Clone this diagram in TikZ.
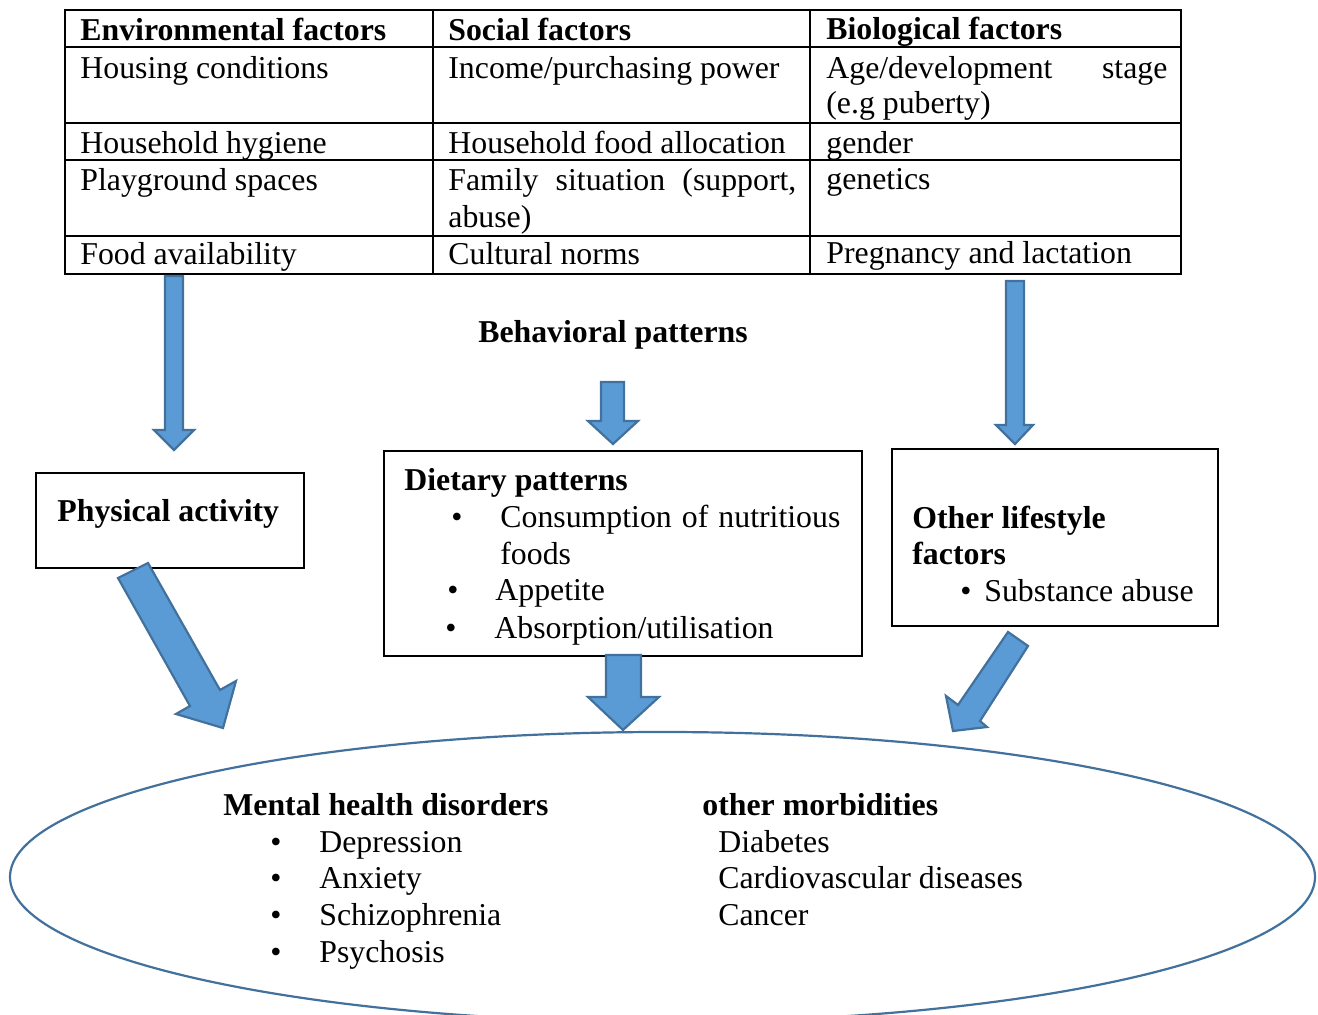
\documentclass[tikz,border=0pt]{standalone}
\usepackage{fontspec}
\setmainfont{Liberation Serif}
\newcommand\fsz{\fontsize{15.9}{18}\selectfont}
\definecolor{arrfill}{HTML}{5B9BD5}
\definecolor{arrdraw}{HTML}{41719C}
\usetikzlibrary{shapes.geometric}
\begin{document}
\begin{tikzpicture}[x=0.5pt,y=-0.5pt,
  txt/.style={anchor=base west,inner sep=0pt,font=\fsz,yshift=-0.9pt},
  btxt/.style={anchor=base west,inner sep=0pt,font=\fsz\bfseries,yshift=-0.9pt},
  bul/.style={anchor=base,inner sep=0pt,font=\fsz,yshift=-0.9pt},
  blk/.style={draw=arrdraw,fill=arrfill,line width=1.1pt,line join=miter},
  rule/.style={draw=black,line width=1pt},
  boxnode/.style={draw=black,line width=1pt,anchor=north west,inner sep=0pt}]
\useasboundingbox (0,0) rectangle (1318,1015);
\fill[white] (0,0) rectangle (1318,1015);

% ---- table ----
\draw[rule] (65,10) rectangle (1181,274);
\foreach \yy in {47,123,160,236} \draw[rule] (65,\yy) -- (1181,\yy);
\draw[rule] (433,10) -- (433,274);
\draw[rule] (810,10) -- (810,274);

\node[btxt] (h1) at (80,39) {Environmental factors};
\node[btxt] (h2) at (448,39) {Social factors};
\node[btxt] (h3) at (826,38) {Biological factors};

\node[txt] (c11) at (80,77) {Housing conditions};
\node[txt] (c12) at (448,77) {Income/purchasing power};
\node[txt] (c13) at (826,77) {\makebox[170.5pt][s]{Age/development stage}};
\node[txt] (c13b) at (826,112) {(e.g puberty)};

\node[txt] (c21) at (80,152) {Household hygiene};
\node[txt] (c22) at (448,152) {Household food allocation};
\node[txt] (c23) at (826,152) {gender};

\node[txt] (c31) at (80,189) {Playground spaces};
\node[txt] (c32) at (448,189) {\makebox[174pt][s]{Family situation (support,}};
\node[txt] (c32b) at (448,226) {abuse)};
\node[txt] (c33) at (826,188) {genetics};

\node[txt] (c41) at (80,263) {Food availability};
\node[txt] (c42) at (448,263) {Cultural norms};
\node[txt] (c43) at (826,262) {Pregnancy and lactation};

% ---- behavioral patterns ----
\node[btxt,anchor=base] (bp) at (613,341) {Behavioral patterns};

% ---- boxes ----
\node[boxnode,minimum width=134pt,minimum height=47.5pt] (pa) at (35,472) {};
\node[btxt] (pat) at (57,520) {Physical activity};

\node[boxnode,minimum width=239pt,minimum height=102.5pt] (dp) at (383,450) {};
\node[btxt] (dpt) at (404,489) {Dietary patterns};
\node[bul] (b1) at (457,526) {\textbullet};
\node[txt] (d1) at (500,526) {\makebox[170pt][s]{Consumption of nutritious}};
\node[txt] (d1b) at (500,563) {foods};
\node[bul] (b2) at (453,599) {\textbullet};
\node[txt] (d2) at (495,599) {Appetite};
\node[bul] (b3) at (451,637) {\textbullet};
\node[txt] (d3) at (494,637) {Absorption/utilisation};

\node[boxnode,minimum width=163pt,minimum height=88.5pt] (ol) at (891,448) {};
\node[btxt] (olt) at (912,527) {Other lifestyle};
\node[btxt] (olt2) at (912,563) {factors};
\node[bul] (b4) at (966,600) {\textbullet};
\node[txt] (o1) at (984,600) {Substance abuse};

% ---- ellipse ----
\node[ellipse,draw=arrdraw,line width=1.1pt,minimum width=652.5pt,minimum height=145pt,inner sep=0pt] (el) at (662.5,877) {};
\begin{scope}[yshift=0.9pt]
\node[btxt] (mh) at (223,815) {Mental health disorders};
\node[bul] (e1) at (276,852) {\textbullet};
\node[txt] (m1) at (319,852) {Depression};
\node[bul] (e2) at (276,888) {\textbullet};
\node[txt] (m2) at (319,888) {Anxiety};
\node[bul] (e3) at (276,925) {\textbullet};
\node[txt] (m3) at (319,925) {Schizophrenia};
\node[bul] (e4) at (276,962) {\textbullet};
\node[txt] (m4) at (319,962) {Psychosis};

\node[btxt] (om) at (702,815) {other morbidities};
\node[txt] (o2) at (718,852) {Diabetes};
\node[txt] (o3) at (718,888) {Cardiovascular diseases};
\node[txt] (o4) at (718,925) {Cancer};
\end{scope}

% ---- block arrows ----
\draw[blk] (165,276) -- (183,276) -- (183,430) -- (194,430) -- (174,450) -- (154,430) -- (165,430) -- cycle;
\draw[blk] (601,382) -- (624,382) -- (624,421) -- (638,421) -- (613,444) -- (588,421) -- (601,421) -- cycle;
\draw[blk] (1006,281) -- (1024,281) -- (1024,425) -- (1033,425) -- (1015,444) -- (996,425) -- (1006,425) -- cycle;
\draw[blk] (606,655) -- (641,655) -- (641,697) -- (659,697) -- (623,730) -- (588,697) -- (606,697) -- cycle;
\draw[blk] (118,578) -- (148,563) -- (220,690) -- (236,681) -- (223,728) -- (176,714) -- (190,706) -- cycle;
\draw[blk] (1008,632) -- (1028,646) -- (980,721) -- (987,727) -- (953,731) -- (946,696) -- (958,705) -- cycle;
\end{tikzpicture}
\end{document}
